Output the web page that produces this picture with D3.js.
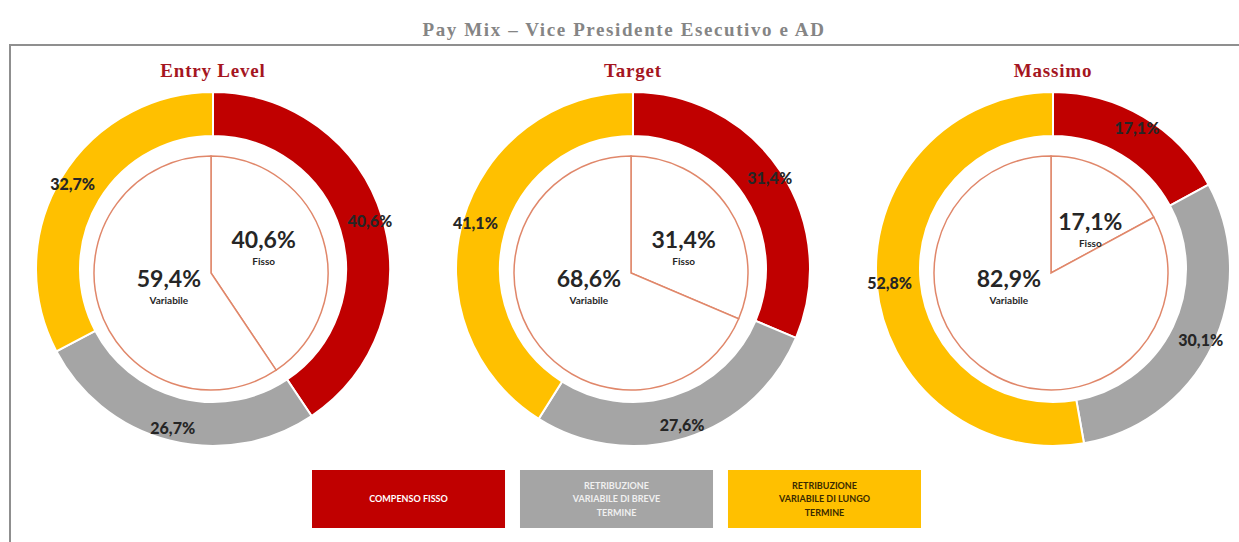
<!DOCTYPE html>
<html>
<head>
<meta charset="utf-8">
<script src="https://cdn.jsdelivr.net/npm/d3@7"></script>
<style>
  body { margin: 0; background: #fff; }
  svg { display: block; }
</style>
</head>
<body>
<div id="chart"></div>
<script>
var width = 1239, height = 542;

// data
var scenarios = ["Entry Level", "Target", "Massimo"];
var components = ["COMPENSO FISSO", "RETRIBUZIONE VARIABILE DI BREVE TERMINE", "RETRIBUZIONE VARIABILE DI LUNGO TERMINE"];
var fisso = [40.6, 31.4, 17.1];
var breve = [26.7, 27.6, 30.1];
var lungo = [32.7, 41.1, 52.8];
var variabile = [59.4, 68.6, 82.9];
var innerLabels = ["Fisso", "Variabile"];
var legendLines = [["COMPENSO FISSO"], ["RETRIBUZIONE", "VARIABILE DI BREVE", "TERMINE"], ["RETRIBUZIONE", "VARIABILE DI LUNGO", "TERMINE"]];
var chartTitle = "Pay Mix \u2013  Vice Presidente Esecutivo e AD";

var colScale = d3.scaleOrdinal()
  .domain(components)
  .range(["#c00000", "#a5a5a5", "#ffc000"]);
var legendText = ["#ffffff", "#f0f0f0", "#3a2a00"];

var xScale = d3.scalePoint()
  .domain(scenarios)
  .range([213, 1053]);

var cy = 269, outerR = 177, innerR = 133, pieR = 117;

var fmt = function(v) { return d3.format(".1f")(v).replace(".", ",") + "%"; };

var svg = d3.select("#chart").append("svg")
  .attr("width", width)
  .attr("height", height);

// frame
svg.append("path")
  .attr("d", "M10,542 V45 H1239")
  .attr("fill", "none")
  .attr("stroke", "#8f8f8f")
  .attr("stroke-width", 2);

svg.append("text")
  .attr("x", 624).attr("y", 36)
  .attr("text-anchor", "middle")
  .style("font-family", "'Liberation Serif', serif")
  .style("font-weight", "bold")
  .style("font-size", "19px")
  .style("letter-spacing", "1.6px")
  .style("fill", "#858585")
  .text(chartTitle);

var pie = d3.pie().sort(null).value(function(d) { return d; });
var ringArc = d3.arc().innerRadius(innerR).outerRadius(outerR);
var ringLabelArc = d3.arc().innerRadius(164).outerRadius(164);
var pieArc = d3.arc().innerRadius(0).outerRadius(pieR);

scenarios.forEach(function(name, i) {
  var cx = xScale(name);
  var g = svg.append("g").attr("transform", "translate(" + cx + "," + cy + ")");

  g.append("text")
    .attr("y", -192)
    .attr("text-anchor", "middle")
    .style("font-family", "'Liberation Serif', serif")
    .style("font-weight", "bold")
    .style("font-size", "19px")
    .style("letter-spacing", "0.8px")
    .style("fill", "#a5161f")
    .text(name);

  var ringData = pie([fisso[i], breve[i], lungo[i]]);

  g.selectAll(".seg")
    .data(ringData)
    .enter().append("path")
    .attr("class", "seg")
    .attr("d", ringArc)
    .style("fill", function(d, j) { return colScale(components[j]); })
    .style("stroke", "#fff")
    .style("stroke-width", 2);

  g.selectAll(".seglabel")
    .data(ringData)
    .enter().append("text")
    .attr("class", "seglabel")
    .attr("transform", function(d) { return "translate(" + ringLabelArc.centroid(d) + ")"; })
    .attr("text-anchor", "middle")
    .attr("dy", "0.35em")
    .style("font-family", "Lato, 'Open Sans', sans-serif")
    .style("font-weight", "900")
    .style("font-size", "16px")
    .style("fill", "#262626")
    .text(function(d) { return fmt(d.value); });

  // inner pie Fisso / Variabile
  var pg = g.append("g").attr("transform", "translate(-2,4)");
  var pieData = pie([fisso[i], variabile[i]]);

  pg.selectAll(".slice")
    .data(pieData)
    .enter().append("path")
    .attr("class", "slice")
    .attr("d", pieArc)
    .style("fill", "#fff")
    .style("stroke", "#e0876a")
    .style("stroke-width", 1.5);

  pieData.forEach(function(d, j) {
    var pos;
    if (j === 0) {
      var a = Math.min((d.startAngle + d.endAngle) / 2 + 0.2, 1.12);
      var r = pieR * 0.5;
      pos = [Math.sin(a) * r, -Math.cos(a) * r];
    } else {
      pos = [-pieR * 0.36, pieR * 0.12];
    }
    var lg = pg.append("g").attr("transform", "translate(" + pos + ")");
    lg.append("text")
      .attr("text-anchor", "middle")
      .attr("y", 0)
      .style("font-family", "Lato, 'Open Sans', sans-serif")
      .style("font-weight", "bold")
      .style("font-size", "23px")
      .style("fill", "#262626")
      .text(fmt(d.value));
    lg.append("text")
      .attr("text-anchor", "middle")
      .attr("y", 17)
      .style("font-family", "Lato, 'Open Sans', sans-serif")
      .style("font-weight", "bold")
      .style("font-size", "10px")
      .style("fill", "#262626")
      .text(innerLabels[j]);
  });
});

// legend
var legX = d3.scaleBand()
  .domain(components)
  .range([312, 921])
  .paddingInner(0.072);

var leg = svg.selectAll(".legend")
  .data(components)
  .enter().append("g")
  .attr("class", "legend")
  .attr("transform", function(d) { return "translate(" + legX(d) + ",470)"; });

leg.append("rect")
  .attr("width", legX.bandwidth())
  .attr("height", 58)
  .style("fill", function(d) { return colScale(d); });

leg.each(function(d, i) {
  var lines = legendLines[i];
  var t = d3.select(this).append("text")
    .attr("text-anchor", "middle")
    .style("font-family", "Lato, 'Open Sans', sans-serif")
    .style("font-weight", "bold")
    .style("font-size", "9px")
    .style("fill", legendText[i]);
  lines.forEach(function(l, k) {
    t.append("tspan")
      .attr("x", legX.bandwidth() / 2)
      .attr("y", 29 + (k - (lines.length - 1) / 2) * 13.5 + 3)
      .text(l);
  });
});
</script>
</body>
</html>
